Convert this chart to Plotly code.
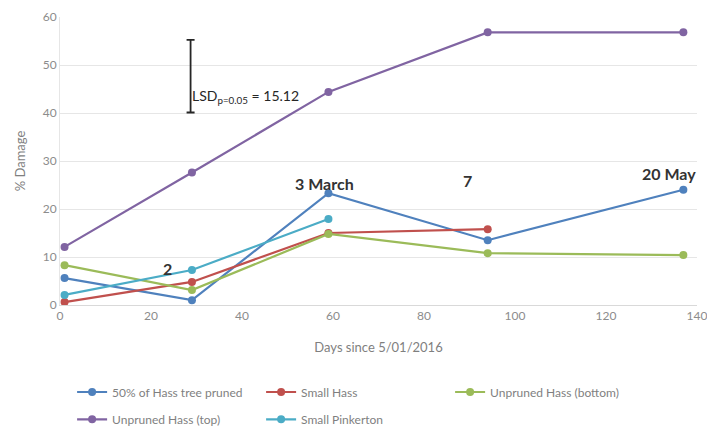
import plotly.graph_objects as go

days = [1, 29, 59, 94, 137]
pruned_50 = [5.6, 1.0, 23.3, 13.5, 24.0]
small_hass = [0.6, 4.8, 15.0, 15.8]
unpruned_bottom = [8.3, 3.1, 14.8, 10.8, 10.4]
unpruned_top = [12.1, 27.6, 44.4, 56.8, 56.8]
small_pinkerton = [2.1, 7.3, 17.9]

series_names = ["50% of Hass tree pruned", "Small Hass", "Unpruned Hass (bottom)",
                "Unpruned Hass (top)", "Small Pinkerton"]
series_values = [pruned_50, small_hass, unpruned_bottom, unpruned_top, small_pinkerton]
colors = ["#4F81BD", "#C0504D", "#9BBB59", "#8064A2", "#4BACC6"]
legend_ids = ["legend", "legend", "legend", "legend2", "legend2"]

lsd_x = 28.7
lsd_base = 40.1
lsd_value = 15.12

date_labels = ["2", "3 March", "7", "20 May"]
date_label_x = [23.7, 58.1, 89.5, 133.9]
date_label_y = [7.7, 25.4, 26.0, 27.5]

FONT = "Lato"

fig = go.Figure()
for name, vals, col, lg in zip(series_names, series_values, colors, legend_ids):
    fig.add_trace(go.Scatter(
        x=days[:len(vals)], y=vals, name=name, mode="lines+markers",
        line=dict(color=col, width=2.2), marker=dict(color=col, size=8),
        legend=lg, cliponaxis=False,
    ))

fig.add_trace(go.Scatter(
    x=[lsd_x], y=[lsd_base], mode="markers", marker=dict(opacity=0, size=1),
    error_y=dict(type="data", symmetric=False, array=[lsd_value], arrayminus=[0],
                 color="#262626", thickness=1.8, width=4),
    showlegend=False, hoverinfo="skip",
))

fig.add_annotation(x=lsd_x, y=43.5, xref="x", yref="y", xanchor="left", yanchor="middle",
                   xshift=-1, text="LSD<sub>p=0.05</sub> = 15.12", showarrow=False,
                   font=dict(family=FONT, size=14, color="#262626"))

for t, xx, yy in zip(date_labels, date_label_x, date_label_y):
    fig.add_annotation(x=xx, y=yy, xref="x", yref="y", text="<b>" + t + "</b>",
                       showarrow=False, font=dict(family=FONT, size=16, color="#333333"))

fig.update_layout(
    width=707, height=418,
    margin=dict(l=52, r=18, t=9, b=121, autoexpand=False),
    paper_bgcolor="white", plot_bgcolor="white",
    font=dict(family=FONT, color="#7f7f7f", size=12),
    legend=dict(orientation="h", x=0.019, xanchor="left", y=-0.302, yanchor="middle",
                entrywidth=144, entrywidthmode="pixels",
                font=dict(family=FONT, size=12, color="#7f7f7f"), bgcolor="rgba(0,0,0,0)"),
    legend2=dict(orientation="h", x=0.019, xanchor="left", y=-0.397, yanchor="middle",
                 entrywidth=144, entrywidthmode="pixels",
                 font=dict(family=FONT, size=12, color="#7f7f7f"), bgcolor="rgba(0,0,0,0)"),
    xaxis=dict(range=[0, 140], dtick=20, showgrid=False, zeroline=False,
               showline=True, linecolor="#d9d9d9", linewidth=1, ticks="",
               tickfont=dict(size=12, color="#8c8c8c"),
               title=dict(text="Days since 5/01/2016", font=dict(size=13, color="#7f7f7f"), standoff=20)),
    yaxis=dict(range=[0, 60], dtick=10, showgrid=True, gridcolor="#e6e6e6", gridwidth=1,
               zeroline=False, showline=True, linecolor="#e6e6e6", ticks="",
               tickfont=dict(size=12, color="#8c8c8c"),
               title=dict(text="% Damage", font=dict(size=13, color="#7f7f7f"), standoff=14)),
)

fig.write_html("out.html")
